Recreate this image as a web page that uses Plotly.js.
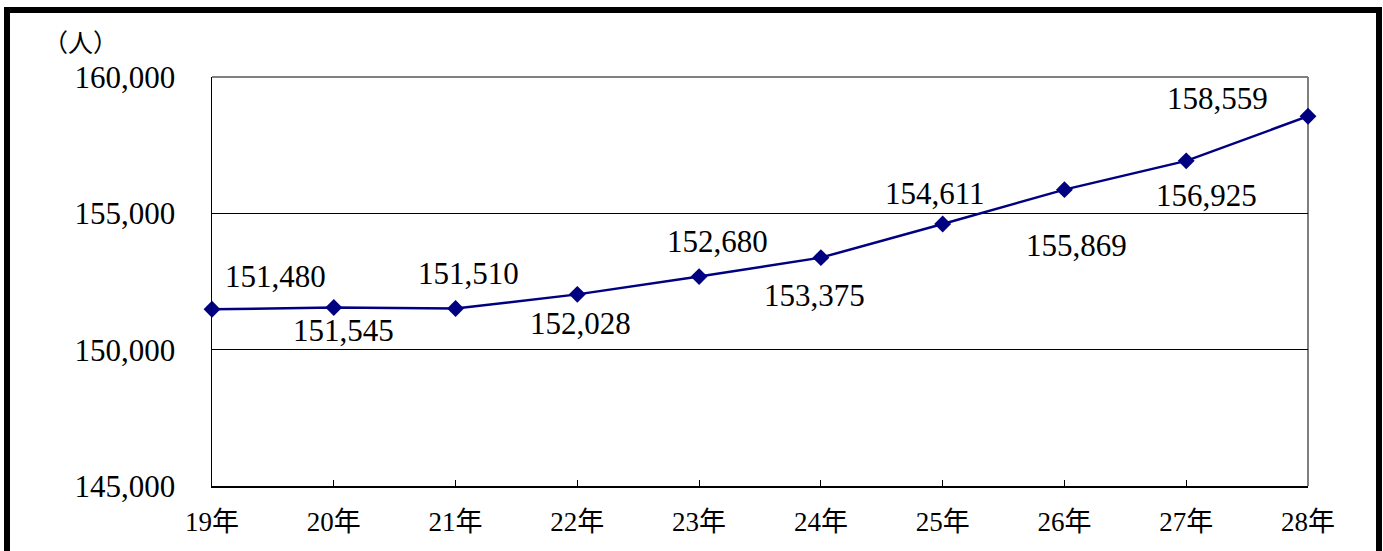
<!DOCTYPE html>
<html>
<head>
<meta charset="utf-8">
<script src="https://cdn.plot.ly/plotly-3.0.1.min.js"></script>
<style>
  html, body { margin: 0; padding: 0; background: #fff; }
  #wrap { position: relative; width: 1383px; height: 551px; overflow: hidden; }
  #frame { position: absolute; left: 4px; top: 7px; width: 1366px; height: 600px; border: 6px solid #000; pointer-events: none; z-index: 5; }
  #chart { position: absolute; left: 0; top: 0; width: 1383px; height: 551px; }
</style>
</head>
<body>
<div id="wrap">
  <div id="chart"></div>
  <div id="frame"></div>
</div>
<script>
// ---- data ----
const years = ["19年", "20年", "21年", "22年", "23年", "24年", "25年", "26年", "27年", "28年"];
const people = [151480, 151545, 151510, 152028, 152680, 153375, 154611, 155869, 156925, 158559];
const yTickVals = [145000, 150000, 155000, 160000];
const yTickText = ["145,000", "150,000", "155,000", "160,000"];
const unitLabel = "（人）";

// ---- styling ----
const FONT = "'Liberation Serif', 'Noto Sans CJK JP', serif";
// label offsets in pixels relative to each point (style only)
const labelShift = [
  [63, -33], [10, 23], [13, -35], [3, 29], [18, -35],
  [-6, 38], [-8, -30], [12, 56], [20, 35], [-91, -18]
];

function fmt(v) { return v.toLocaleString("en-US"); }

const annotations = years.map((yr, i) => ({
  x: yr, y: people[i], xref: "x", yref: "y",
  text: fmt(people[i]), showarrow: false,
  xshift: labelShift[i][0], yshift: -labelShift[i][1],
  font: { family: FONT, size: 31, color: "#000" }
}));
annotations.push({
  xref: "paper", yref: "paper", x: -0.156, y: 1.0, yshift: 36,
  xanchor: "left", yanchor: "middle", showarrow: false,
  text: unitLabel, font: { family: "'Noto Sans CJK JP', serif", size: 25, color: "#000" }
});

const trace = {
  x: years, y: people, type: "scatter", mode: "lines+markers",
  line: { color: "#000080", width: 2.5 },
  marker: { symbol: "diamond", size: 13, color: "#000080" },
  hoverinfo: "skip", cliponaxis: false
};

const layout = {
  width: 1383, height: 551,
  margin: { l: 212, r: 75, t: 77, b: 65 },
  paper_bgcolor: "#fff", plot_bgcolor: "#fff",
  showlegend: false,
  xaxis: {
    type: "category", range: [0, 9], fixedrange: true,
    showline: true, linecolor: "#000", linewidth: 1.5,
    ticks: "inside", ticklen: 6, tickcolor: "#000", tickwidth: 1,
    showgrid: false, zeroline: false,
    ticklabelstandoff: 11,
    tickfont: { family: FONT, size: 27, color: "#000" }
  },
  yaxis: {
    range: [145000, 160000], fixedrange: true,
    tickvals: yTickVals, ticktext: yTickText,
    showline: true, linecolor: "#000", linewidth: 1.5,
    ticks: "", showgrid: true, gridcolor: "#000", gridwidth: 1,
    zeroline: false, ticklabelstandoff: 29,
    tickfont: { family: FONT, size: 31, color: "#000" }
  },
  shapes: [
    { type: "line", xref: "paper", yref: "paper", x0: 0, x1: 1, y0: 1, y1: 1,
      line: { color: "#808080", width: 2 }, layer: "above" },
    { type: "line", xref: "paper", yref: "paper", x0: 1, x1: 1, y0: 0, y1: 1,
      line: { color: "#808080", width: 2 }, layer: "below" }
  ],
  annotations: annotations
};

Plotly.newPlot("chart", [trace], layout, { staticPlot: true, displayModeBar: false });
</script>
</body>
</html>
